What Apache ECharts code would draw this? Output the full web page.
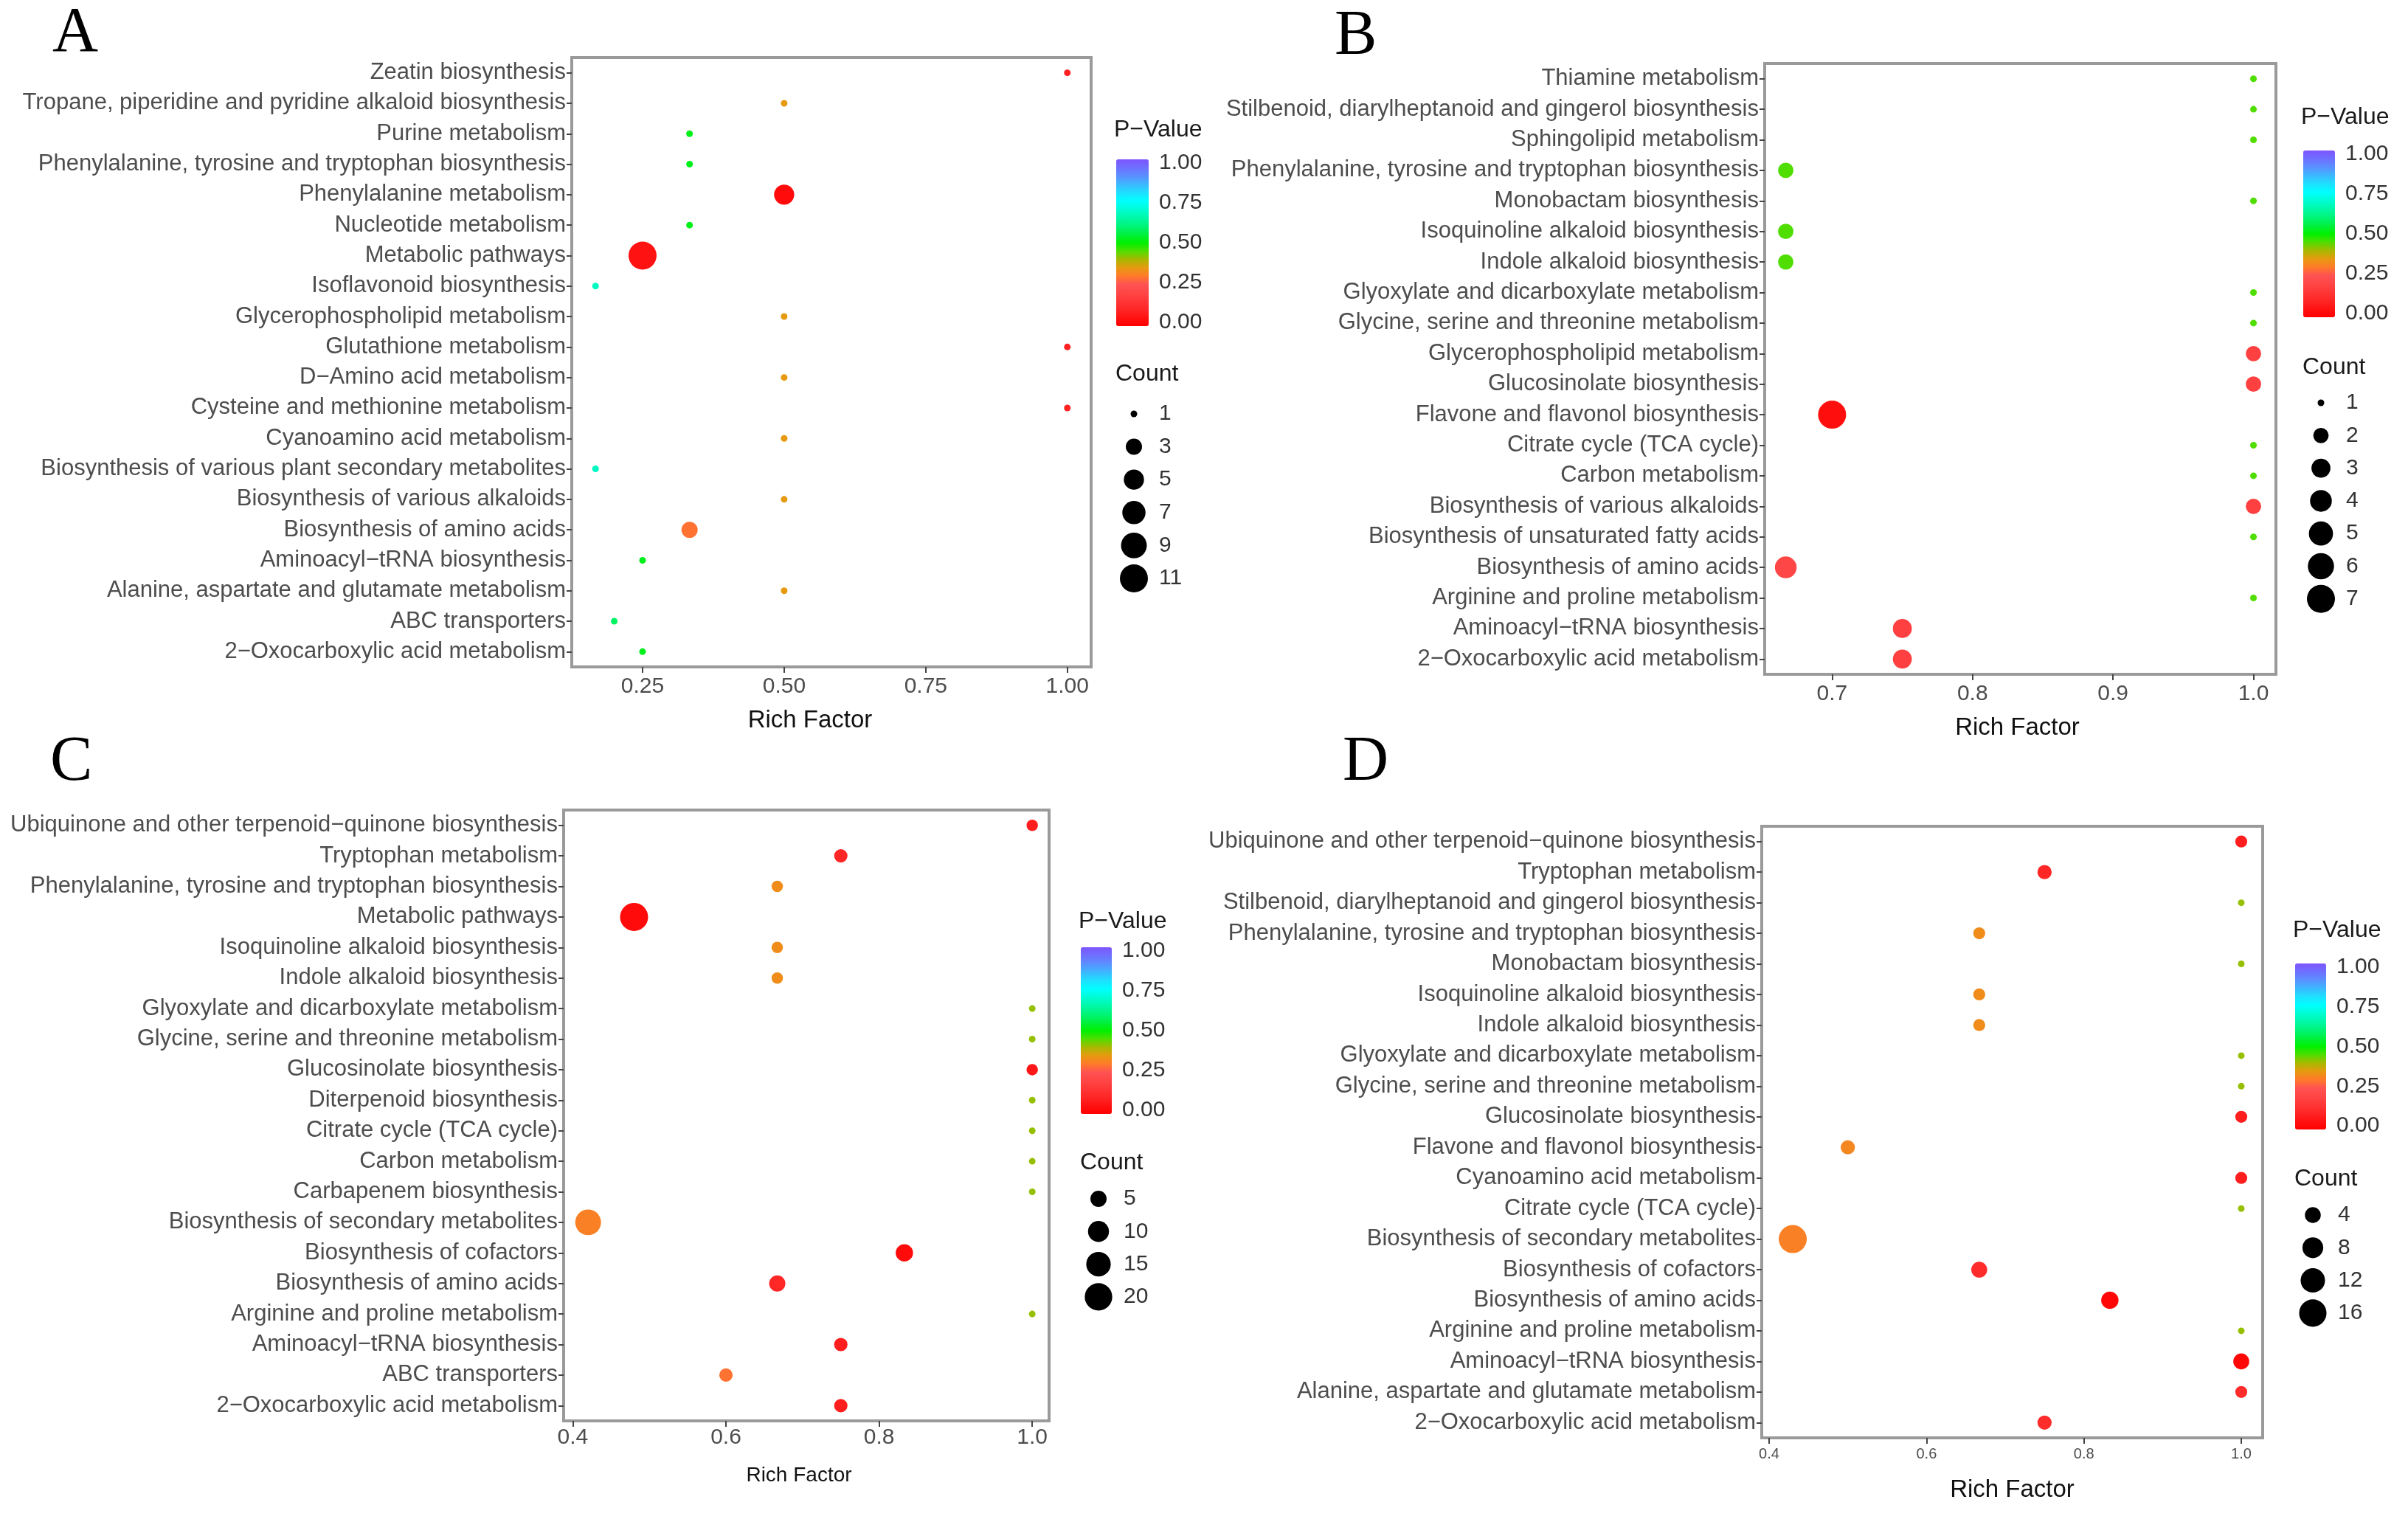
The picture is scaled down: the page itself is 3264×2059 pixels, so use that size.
<!DOCTYPE html>
<html>
<head>
<meta charset="utf-8">
<title>KEGG enrichment bubble charts</title>
<script src="https://cdn.jsdelivr.net/npm/echarts@6/dist/echarts.min.js"></script>
<style>
  html, body { margin: 0; padding: 0; background: #fff; }
  #chart { width: 3264px; height: 2059px; }
</style>
</head>
<body>
<div id="chart"></div>
<script>
// ---- data: panel A ----
var catsA = ['Zeatin biosynthesis', 'Tropane, piperidine and pyridine alkaloid biosynthesis', 'Purine metabolism',
  'Phenylalanine, tyrosine and tryptophan biosynthesis', 'Phenylalanine metabolism', 'Nucleotide metabolism',
  'Metabolic pathways', 'Isoflavonoid biosynthesis', 'Glycerophospholipid metabolism', 'Glutathione metabolism',
  'D−Amino acid metabolism', 'Cysteine and methionine metabolism', 'Cyanoamino acid metabolism',
  'Biosynthesis of various plant secondary metabolites', 'Biosynthesis of various alkaloids',
  'Biosynthesis of amino acids', 'Aminoacyl−tRNA biosynthesis', 'Alanine, aspartate and glutamate metabolism',
  'ABC transporters', '2−Oxocarboxylic acid metabolism'];
var richA = [1.0, 0.5, 0.333, 0.333, 0.5, 0.333, 0.25, 0.167, 0.5, 1.0, 0.5, 1.0, 0.5, 0.167, 0.5, 0.333, 0.25, 0.5, 0.2, 0.25];
var countA = [1, 1, 1, 1, 5, 1, 11, 1, 1, 1, 1, 1, 1, 1, 1, 3, 1, 1, 1, 1];
var pvalA = [0.09, 0.35, 0.52, 0.52, 0.03, 0.52, 0.05, 0.68, 0.35, 0.09, 0.35, 0.09, 0.35, 0.68, 0.35, 0.29, 0.52, 0.35, 0.58, 0.52];
var xTicksA = [0.25, 0.5, 0.75, 1.0];
var countTicksA = [1, 3, 5, 7, 9, 11];

// ---- data: panel B ----
var catsB = ['Thiamine metabolism', 'Stilbenoid, diarylheptanoid and gingerol biosynthesis', 'Sphingolipid metabolism',
  'Phenylalanine, tyrosine and tryptophan biosynthesis', 'Monobactam biosynthesis', 'Isoquinoline alkaloid biosynthesis',
  'Indole alkaloid biosynthesis', 'Glyoxylate and dicarboxylate metabolism', 'Glycine, serine and threonine metabolism',
  'Glycerophospholipid metabolism', 'Glucosinolate biosynthesis', 'Flavone and flavonol biosynthesis',
  'Citrate cycle (TCA cycle)', 'Carbon metabolism', 'Biosynthesis of various alkaloids',
  'Biosynthesis of unsaturated fatty acids', 'Biosynthesis of amino acids', 'Arginine and proline metabolism',
  'Aminoacyl−tRNA biosynthesis', '2−Oxocarboxylic acid metabolism'];
var richB = [1, 1, 1, 0.667, 1, 0.667, 0.667, 1, 1, 1, 1, 0.7, 1, 1, 1, 1, 0.667, 1, 0.75, 0.75];
var countB = [1, 1, 1, 2, 1, 2, 2, 1, 1, 2, 2, 7, 1, 1, 2, 1, 4, 1, 3, 3];
var pvalB = [0.45, 0.45, 0.45, 0.45, 0.45, 0.45, 0.45, 0.45, 0.45, 0.18, 0.18, 0.04, 0.45, 0.45, 0.18, 0.45, 0.2, 0.45, 0.18, 0.18];
var xTicksB = [0.7, 0.8, 0.9, 1.0];
var countTicksB = [1, 2, 3, 4, 5, 6, 7];

// ---- data: panel C ----
var catsC = ['Ubiquinone and other terpenoid−quinone biosynthesis', 'Tryptophan metabolism',
  'Phenylalanine, tyrosine and tryptophan biosynthesis', 'Metabolic pathways', 'Isoquinoline alkaloid biosynthesis',
  'Indole alkaloid biosynthesis', 'Glyoxylate and dicarboxylate metabolism', 'Glycine, serine and threonine metabolism',
  'Glucosinolate biosynthesis', 'Diterpenoid biosynthesis', 'Citrate cycle (TCA cycle)', 'Carbon metabolism',
  'Carbapenem biosynthesis', 'Biosynthesis of secondary metabolites', 'Biosynthesis of cofactors',
  'Biosynthesis of amino acids', 'Arginine and proline metabolism', 'Aminoacyl−tRNA biosynthesis',
  'ABC transporters', '2−Oxocarboxylic acid metabolism'];
var richC = [1, 0.75, 0.667, 0.48, 0.667, 0.667, 1, 1, 1, 1, 1, 1, 1, 0.42, 0.833, 0.667, 1, 0.75, 0.6, 0.75];
var countC = [2, 3, 2, 21, 2, 2, 1, 1, 2, 1, 1, 1, 1, 17, 6, 5, 1, 3, 3, 3];
var pvalC = [0.08, 0.1, 0.33, 0.03, 0.33, 0.33, 0.41, 0.41, 0.06, 0.41, 0.41, 0.41, 0.41, 0.31, 0.03, 0.1, 0.41, 0.08, 0.29, 0.08];
var xTicksC = [0.4, 0.6, 0.8, 1.0];
var countTicksC = [5, 10, 15, 20];

// ---- data: panel D ----
var catsD = ['Ubiquinone and other terpenoid−quinone biosynthesis', 'Tryptophan metabolism',
  'Stilbenoid, diarylheptanoid and gingerol biosynthesis', 'Phenylalanine, tyrosine and tryptophan biosynthesis',
  'Monobactam biosynthesis', 'Isoquinoline alkaloid biosynthesis', 'Indole alkaloid biosynthesis',
  'Glyoxylate and dicarboxylate metabolism', 'Glycine, serine and threonine metabolism', 'Glucosinolate biosynthesis',
  'Flavone and flavonol biosynthesis', 'Cyanoamino acid metabolism', 'Citrate cycle (TCA cycle)',
  'Biosynthesis of secondary metabolites', 'Biosynthesis of cofactors', 'Biosynthesis of amino acids',
  'Arginine and proline metabolism', 'Aminoacyl−tRNA biosynthesis', 'Alanine, aspartate and glutamate metabolism',
  '2−Oxocarboxylic acid metabolism'];
var richD = [1, 0.75, 1, 0.667, 1, 0.667, 0.667, 1, 1, 1, 0.5, 1, 1, 0.43, 0.667, 0.833, 1, 1, 1, 0.75];
var countD = [2, 3, 1, 2, 1, 2, 2, 1, 1, 2, 3, 2, 1, 17, 4, 5, 1, 4, 2, 3];
var pvalD = [0.08, 0.1, 0.41, 0.33, 0.41, 0.33, 0.33, 0.41, 0.41, 0.08, 0.32, 0.08, 0.41, 0.31, 0.12, 0.02, 0.41, 0.02, 0.12, 0.12];
var xTicksD = [0.4, 0.6, 0.8, 1.0];
var countTicksD = [4, 8, 12, 16];

var pTicks = [0, 0.25, 0.5, 0.75, 1];

// colour ramp of the P-value scale (0 -> 1, evenly spaced)
var pColors = ['#ff0000', '#ff1212', '#ff2626', '#ff3636', '#ff4646', '#ff5252', '#ff7a2a', '#e69a10', '#a8b800',
  '#50dd00', '#00f000', '#00f040', '#00f478', '#00f8a8', '#00fcd4', '#00ffff', '#1ee0ff', '#3cb8ff', '#5a90ff',
  '#6e70ff', '#7d55ff'];

var FONT = "'Liberation Sans', Arial, sans-serif";

var panels = [
  { letter: 'A', cats: catsA, rich: richA, count: countA, pval: pvalA, ticks: xTicksA, countTicks: countTicksA,
    digits: 2, grid: { left: 775, top: 78, width: 704, height: 826 }, xmin: 0.125, xmax: 1.042,
    tickFont: 30, tickMargin: 12, nameFont: 33, nameGap: 56, nameShift: 29,
    letterPos: [71, 46], legend: { x: 1513, titleY: 176, barTop: 216, barH: 226, barW: 44, countY: 507, itemY0: 561, itemStep: 44.6 } },
  { letter: 'B', cats: catsB, rich: richB, count: countB, pval: pvalB, ticks: xTicksB, countTicks: countTicksB,
    digits: 1, grid: { left: 2392, top: 86, width: 693, height: 828 }, xmin: 0.652, xmax: 1.016,
    tickFont: 30, tickMargin: 12, nameFont: 33, nameGap: 56, nameShift: 4,
    letterPos: [1809, 50], legend: { x: 3122, titleY: 159, barTop: 204, barH: 226, barW: 43, countY: 498, itemY0: 546, itemStep: 44.3 } },
  { letter: 'C', cats: catsC, rich: richC, count: countC, pval: pvalC, ticks: xTicksC, countTicks: countTicksC,
    digits: 1, grid: { left: 764, top: 1098, width: 658, height: 828 }, xmin: 0.388, xmax: 1.022,
    tickFont: 30, tickMargin: 8, nameFont: 28, nameGap: 60, nameShift: 10,
    letterPos: [68, 1034], legend: { x: 1465, titleY: 1249, barTop: 1284, barH: 226, barW: 42, countY: 1576, itemY0: 1625, itemStep: 44.3 } },
  { letter: 'D', cats: catsD, rich: richD, count: countD, pval: pvalD, ticks: xTicksD, countTicks: countTicksD,
    digits: 1, grid: { left: 2388, top: 1120, width: 679, height: 829 }, xmin: 0.3906, xmax: 1.0272,
    tickFont: 20, tickMargin: 12, nameFont: 33, nameGap: 54, nameShift: 0,
    letterPos: [1820, 1034], legend: { x: 3111, titleY: 1261, barTop: 1306, barH: 225, barW: 42, countY: 1598, itemY0: 1647, itemStep: 44.3 } }
];

// ggplot-like area scale: diameter grows with sqrt of the rescaled count
var D_MIN = 9, D_MAX = 38;
function sizeOf(c, lo, hi) {
  var t = hi > lo ? (c - lo) / (hi - lo) : 0;
  t = Math.max(0, Math.min(1, t));
  return D_MIN + (D_MAX - D_MIN) * Math.sqrt(t);
}

function txt(x, y, s, size, color, align, family) {
  return {
    type: 'text', x: x, y: y, silent: true,
    style: {
      text: s, fill: color, fontSize: size, fontFamily: family || FONT,
      textAlign: align || 'left', textVerticalAlign: 'middle', align: align || 'left', verticalAlign: 'middle'
    }
  };
}

var grids = [], xAxes = [], yAxes = [], series = [], visualMaps = [], graphics = [];

panels.forEach(function (p, i) {
  var lo = Math.min.apply(null, p.count), hi = Math.max.apply(null, p.count);
  grids.push({
    left: p.grid.left, top: p.grid.top, width: p.grid.width, height: p.grid.height,
    show: true, backgroundColor: '#fff', borderColor: '#9a9a9a', borderWidth: 4
  });
  xAxes.push({
    type: 'value', gridIndex: i, min: p.xmin, max: p.xmax,
    name: 'Rich Factor', nameLocation: 'middle', nameGap: p.nameGap,
    nameTextStyle: { color: '#111', fontSize: p.nameFont, fontFamily: FONT, padding: [0, 2 * p.nameShift, 0, 0] },
    axisLine: { show: false },
    axisTick: { show: true, length: 8, customValues: p.ticks, lineStyle: { color: '#444', width: 2 } },
    axisLabel: {
      customValues: p.ticks, color: '#4d4d4d', fontSize: p.tickFont, fontFamily: FONT, margin: p.tickMargin,
      formatter: (function (d) { return function (v) { return v.toFixed(d); }; })(p.digits)
    },
    splitLine: { show: false }
  });
  yAxes.push({
    type: 'category', gridIndex: i, data: p.cats, inverse: true,
    axisLine: { show: false },
    axisTick: { show: true, alignWithLabel: true, length: 7, lineStyle: { color: '#444', width: 2 } },
    axisLabel: { color: '#4d4d4d', fontSize: 31, fontFamily: FONT, margin: 8 },
    splitLine: { show: false }
  });
  series.push({
    type: 'scatter', xAxisIndex: i, yAxisIndex: i,
    data: p.rich.map(function (r, k) { return [r, p.cats[k], p.count[k], p.pval[k]]; }),
    symbolSize: (function (a, b) { return function (v) { return sizeOf(v[2], a, b); }; })(lo, hi),
    itemStyle: { opacity: 1 }
  });
  visualMaps.push({
    type: 'continuous', seriesIndex: i, dimension: 3, min: 0, max: 1,
    inRange: { color: pColors }, calculable: false, hoverLink: false, realtime: false,
    orient: 'vertical', left: p.legend.x, top: p.legend.barTop, padding: 0,
    itemWidth: p.legend.barW, itemHeight: p.legend.barH, text: null, showLabel: false
  });

  // legend texts and size keys
  var L = p.legend;
  graphics.push(txt(p.letterPos[0], p.letterPos[1], p.letter, 86, '#000', 'left', "'Liberation Serif', 'Times New Roman', serif"));
  graphics.push(txt(L.x - 3, L.titleY, 'P−Value', 32, '#1a1a1a'));
  pTicks.forEach(function (v) {
    graphics.push(txt(L.x + L.barW + 14, L.barTop + 5 + (1 - v) * (L.barH - 10), v.toFixed(2), 30, '#333'));
  });
  graphics.push(txt(L.x - 1, L.countY, 'Count', 32, '#1a1a1a'));
  p.countTicks.forEach(function (c, k) {
    var cy = L.itemY0 + k * L.itemStep;
    graphics.push({ type: 'circle', silent: true, shape: { cx: L.x + 24, cy: cy, r: sizeOf(c, lo, hi) / 2 }, style: { fill: '#000' } });
    graphics.push(txt(L.x + 58, cy, String(c), 30, '#333'));
  });
});

var myChart = echarts.init(document.getElementById('chart'));
myChart.setOption({
  backgroundColor: '#fff',
  animation: false,
  grid: grids,
  xAxis: xAxes,
  yAxis: yAxes,
  visualMap: visualMaps,
  series: series,
  graphic: { elements: graphics }
});
window.addEventListener('resize', function () {
  myChart.resize();
});
</script>
</body>
</html>
